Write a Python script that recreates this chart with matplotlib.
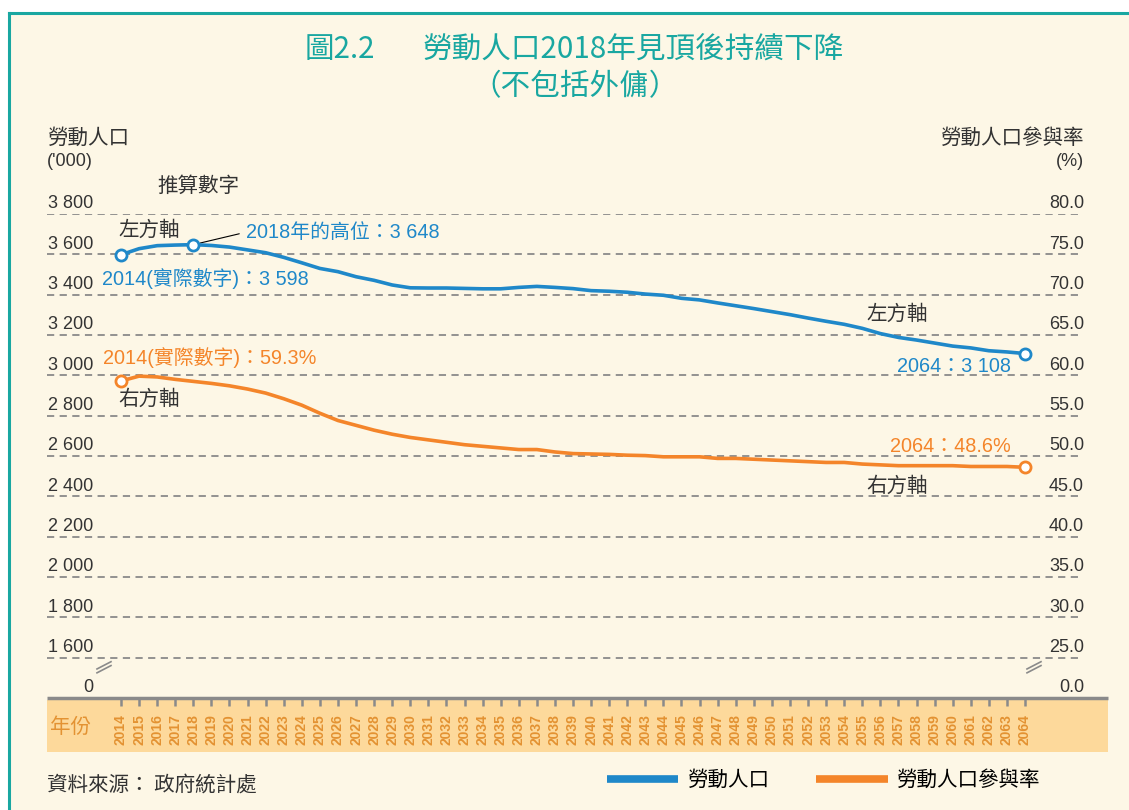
import matplotlib
matplotlib.use("Agg")
import matplotlib.pyplot as plt
from matplotlib import font_manager
from matplotlib.lines import Line2D
from matplotlib.patches import Rectangle
import matplotlib.transforms as mtransforms

# data
years = list(range(2014, 2065))
labour_force = [3598, 3628, 3643, 3646, 3648, 3644, 3636, 3622, 3608, 3585,
                3558, 3530, 3514, 3489, 3471, 3448, 3434, 3433, 3433, 3431,
                3429, 3429, 3436, 3441, 3436, 3430,
                3420, 3417, 3412, 3403, 3397, 3382, 3374, 3359, 3345, 3331,
                3316, 3301, 3284, 3268, 3253, 3233, 3207, 3188, 3175, 3160,
                3145, 3136, 3122, 3116, 3108]
lfpr = [59.3, 59.9, 59.8, 59.5, 59.25, 59.0, 58.7, 58.3, 57.8, 57.1,
        56.3, 55.3, 54.4, 53.8, 53.2, 52.7, 52.3, 52.0, 51.7, 51.4,
        51.2, 51.0, 50.8, 50.8, 50.5, 50.3,
        50.25, 50.2, 50.1, 50.05, 49.9, 49.9, 49.9, 49.7, 49.7, 49.6,
        49.5, 49.4, 49.3, 49.2, 49.2, 49.0, 48.9, 48.8, 48.8, 48.8,
        48.8, 48.7, 48.7, 48.7, 48.6]
left_ticks = [1600, 1800, 2000, 2200, 2400, 2600, 2800, 3000, 3200, 3400, 3600, 3800]
left_labels = ["1 600", "1 800", "2 000", "2 200", "2 400", "2 600",
               "2 800", "3 000", "3 200", "3 400", "3 600", "3 800"]
right_ticks = [25, 30, 35, 40, 45, 50, 55, 60, 65, 70, 75, 80]
right_labels = ["25.0", "30.0", "35.0", "40.0", "45.0", "50.0",
                "55.0", "60.0", "65.0", "70.0", "75.0", "80.0"]

BLUE = "#1f88c9"
ORANGE = "#f4852a"
TEAL = "#19a7a1"
DARK = "#333333"
GRID = "#8a8a8a"
YEARC = "#e39232"
BG = "#fdf7e6"

names = {f.name for f in font_manager.fontManager.ttflist}
narrow = "Liberation Sans Narrow" in names
NUM = "Liberation Sans Narrow" if narrow else "Liberation Sans"
FS = 14.5 if narrow else 13      # axis value labels
FA = 14.3                        # annotation labels
FC = 14.8                        # chinese captions
CJK = ['Noto Sans CJK TC']
plt.rcParams['font.family'] = [NUM, 'Noto Sans CJK TC', 'DejaVu Sans']

W, H = 1129, 810


def fx(x):
    return x / W


def fy(y):
    return 1 - y / H


fig = plt.figure(figsize=(W / 100, H / 100), dpi=100, facecolor="white")

# cream panel with teal frame
fig.patches.append(Rectangle((fx(9), 0), 1 - fx(9), fy(13), transform=fig.transFigure,
                             facecolor=BG, edgecolor="none", zorder=-5))
fig.lines.append(Line2D([fx(9), 1], [fy(13), fy(13)], transform=fig.transFigure,
                        color=TEAL, lw=2.2))
fig.lines.append(Line2D([fx(9), fx(9)], [0, fy(13)], transform=fig.transFigure,
                        color=TEAL, lw=2.2))

ax = fig.add_axes([fx(47), fy(698), (1083 - 47) / W, (698 - 214) / H])
ax.set_facecolor("none")
ax2 = ax.twinx()
ax2.set_facecolor("none")

px_year = (1025 - 121) / 50
ax.set_xlim(2014 - (121 - 47) / px_year, 2064 + (1083 - 1025) / px_year)
ax.set_ylim(1400, 3800)
ax2.set_ylim(20, 80)

for a in (ax, ax2):
    for s in a.spines.values():
        s.set_visible(False)
ax.set_yticks(left_ticks)
ax.tick_params(axis="y", left=False, labelleft=False)
ax2.tick_params(axis="y", right=False, labelright=False)
ax.yaxis.grid(True, color=GRID, ls=(0, (4, 3)), lw=1.3)

ax.set_xticks(years)
ax.set_xticklabels([str(y) for y in years], rotation=90, fontsize=10,
                   fontweight="bold", color=YEARC, family="Liberation Sans")
ax.tick_params(axis="x", length=6, width=1.8, color=GRID, pad=5.5)

# baseline and year band
right_ext = (1108 - 47) / (1083 - 47)
ax.plot([0, right_ext], [0, 0], transform=ax.transAxes, color=GRID, lw=2.5,
        clip_on=False, zorder=5, solid_capstyle="butt")
band_h = (752 - 700) / (698 - 214)
ax.add_patch(Rectangle((0, -(752 - 698) / (698 - 214)), right_ext, band_h,
                       transform=ax.transAxes, facecolor="#fdd99b",
                       edgecolor="none", clip_on=False, zorder=0))
fig.text(fx(50), fy(727), "年份", fontsize=FC, color=YEARC, va="center", family=CJK)

# axis value labels sitting on the gridlines
tl = mtransforms.blended_transform_factory(ax.transAxes, ax.transData)
for v, lab in zip(left_ticks, left_labels):
    ax.text(46 / 1036, v + 8, lab, transform=tl, ha="right", va="bottom",
            fontsize=FS, color=DARK)
ax.text(46 / 1036, 1400 + 8, "0", transform=tl, ha="right", va="bottom",
        fontsize=FS, color=DARK)
tr = mtransforms.blended_transform_factory(ax2.transAxes, ax2.transData)
for v, lab in zip(right_ticks, right_labels):
    ax2.text(1.001, v + 0.2, lab, transform=tr, ha="right", va="bottom",
             fontsize=FS, color=DARK)
ax2.text(1.001, 20.2, "0.0", transform=tr, ha="right", va="bottom",
         fontsize=FS, color=DARK)

# axis break marks
for x0 in ((97 - 47) / 1036, (1027 - 47) / 1036):
    for dy in (0, 0.008):
        ax.plot([x0, x0 + 14 / 1036], [0.052 + dy, 0.067 + dy], transform=ax.transAxes,
                color=GRID, lw=1.2, clip_on=False)

# lines
ax.plot(years, labour_force, color=BLUE, lw=2.6, zorder=4, marker="o",
        markevery=[0, 4, len(years) - 1], ms=8, mfc="white", mec=BLUE, mew=2)
ax2.plot(years, lfpr, color=ORANGE, lw=2.6, zorder=4, marker="o",
         markevery=[0, len(years) - 1], ms=8, mfc="white", mec=ORANGE, mew=2)

# value annotations
ax.annotate("2014(實際數字)：3 598", (years[0], labour_force[0]), xytext=(-14, -17),
            textcoords="offset points", ha="left", va="center", color=BLUE, fontsize=FA)
ax.annotate("2018年的高位：3 648", (years[4], labour_force[4]), xytext=(38, 9),
            textcoords="offset points", ha="left", va="center", color=BLUE, fontsize=FA,
            arrowprops=dict(arrowstyle="-", color="black", lw=0.8,
                            relpos=(0, 0.5), shrinkA=3, shrinkB=5))
ax.annotate("2064：3 108", (years[-1], labour_force[-1]), xytext=(-10, -9),
            textcoords="offset points", ha="right", va="center", color=BLUE, fontsize=FA)
ax2.annotate("2014(實際數字)：59.3%", (years[0], lfpr[0]), xytext=(-13, 17),
             textcoords="offset points", ha="left", va="center", color=ORANGE, fontsize=FA)
ax2.annotate("2064：48.6%", (years[-1], lfpr[-1]), xytext=(-10, 15),
             textcoords="offset points", ha="right", va="center", color=ORANGE, fontsize=FA)

for x, y, s in [(157, 186, "推算數字"), (118, 230, "左方軸"), (118, 399, "右方軸"),
                (866, 314, "左方軸"), (866, 486, "右方軸")]:
    fig.text(fx(x), fy(y), s, fontsize=FC, color=DARK, va="center", family=CJK)

# axis headers
fig.text(fx(47), fy(138), "勞動人口", fontsize=FC, color=DARK, va="center", family=CJK)
fig.text(fx(47), fy(162), "('000)", fontsize=FS, color=DARK, va="center")
fig.text(fx(1084), fy(138), "勞動人口參與率", fontsize=FC, color=DARK, va="center",
         ha="right", family=CJK)
fig.text(fx(1084), fy(162), "(%)", fontsize=FS, color=DARK, va="center", ha="right")

# title
fig.text(fx(375), fy(50), "圖2.2", fontsize=21.3, color=TEAL, va="center", ha="right",
         family=CJK, fontweight="light")
fig.text(fx(423), fy(50), "勞動人口2018年見頂後持續下降", fontsize=21.3, color=TEAL,
         va="center", ha="left", family=CJK, fontweight="light")
fig.text(fx(575), fy(87), "（不包括外傭）", fontsize=21.3, color=TEAL, va="center",
         ha="center", family=CJK, fontweight="light")

# source and legend
fig.text(fx(47), fy(785), "資料來源： 政府統計處", fontsize=FC, color=DARK, va="center",
         family=CJK)
handles = [Line2D([], [], color=BLUE, lw=5.5, solid_capstyle="butt"),
           Line2D([], [], color=ORANGE, lw=5.5, solid_capstyle="butt")]
fig.legend(handles, ["勞動人口", "勞動人口參與率"], loc="center left",
           bbox_to_anchor=(fx(588), fy(780)), ncol=2, frameon=False,
           handlelength=3.5, handletextpad=0.4, columnspacing=2.3,
           prop={'family': CJK, 'size': FC})

fig.savefig("out.png", dpi=100, facecolor="white")
